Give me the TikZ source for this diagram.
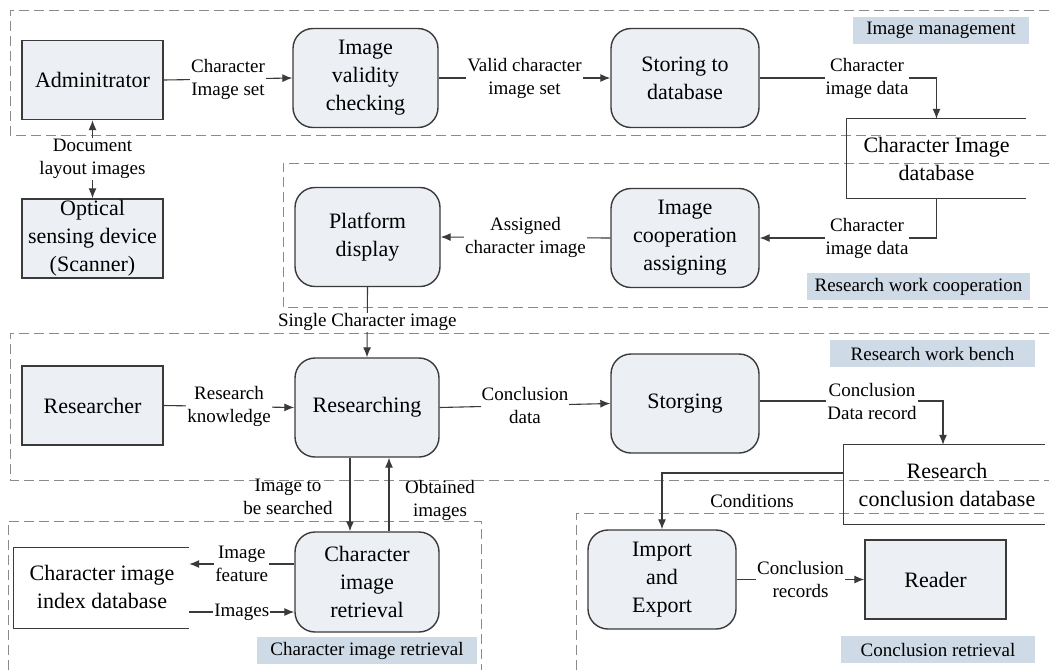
\documentclass[tikz,border=0pt]{standalone}
\usepackage{fontspec}
\setmainfont{Liberation Serif}
\usetikzlibrary{arrows.meta,calc}
\definecolor{nodefill}{HTML}{ECEFF4}
\definecolor{tagfill}{HTML}{CFDAE7}
\definecolor{edge}{HTML}{3A3A3A}
\definecolor{dashc}{HTML}{8A8A8A}
\tikzset{
  bigtext/.style={font=\fontsize{22}{28}\selectfont, align=center},
  sqbox/.style={bigtext, draw=edge, line width=1.4pt, fill=nodefill, minimum width=141pt, minimum height=79pt, inner sep=0pt},
  rbox/.style={bigtext, draw=edge, line width=1.4pt, fill=nodefill, rounded corners=20pt, minimum width=146pt, minimum height=99pt, inner sep=0pt},
  dbbox/.style={bigtext, inner sep=0pt},
  dbline/.style={draw=edge, line width=1.2pt},
  lbl/.style={font=\fontsize{19}{23}\selectfont, align=center, fill=white, inner sep=1pt},
  plainlbl/.style={font=\fontsize{19}{23}\selectfont, align=center, inner sep=1pt},
  tag/.style={font=\fontsize{19}{23}\selectfont, fill=tagfill, inner sep=0pt, minimum height=27pt},
  region/.style={draw=dashc, line width=0.9pt, dash pattern=on 10pt off 5pt},
  arr/.style={draw=edge, line width=1.1pt, -{Latex[length=10pt,width=8pt]}},
  ln/.style={draw=edge, line width=1.1pt},
}
\begin{document}
\begin{tikzpicture}[x=1pt,y=-1pt]
\useasboundingbox (0,0) rectangle (1049,670);
% regions
\draw[region] (1049,10) -- (10,10) -- (10,135) -- (1049,135);
\draw[region] (1049,163) -- (283,163) -- (283,307) -- (1049,307);
\draw[region] (1049,333) -- (10,333) -- (10,480) -- (1049,480);
\draw[region] (8,670) -- (8,521) -- (481,521) -- (481,670);
\draw[region] (576,670) -- (576,513) -- (1049,513);
% region tags
\node[tag, minimum width=176pt] (tagim) at (941,30.5) {Image management};
\node[tag, minimum width=223pt] (tagrc) at (918.5,286.5) {Research work cooperation};
\node[tag, minimum width=205pt] (tagrb) at (932.5,353.5) {Research work bench};
\node[tag, minimum width=220pt] (tagcr) at (367,650.5) {Character image retrieval};
\node[tag, minimum width=194pt] (tagcl) at (938,649.5) {Conclusion retrieval};
% nodes
\node[sqbox] (adm) at (92.5,80) {Adminitrator};
\node[sqbox] (opt) at (92.5,238.5) {Optical\\sensing device\\(Scanner)};
\node[rbox, minimum width=145pt] (ivc) at (365.5,78) {Image\\validity\\checking};
\node[rbox, minimum width=148pt] (std) at (685,78) {Storing to\\database};
\node[dbbox, minimum width=179pt, minimum height=79pt] (cidb) at (936.5,158.5) {Character Image\\database};
\node[rbox, minimum width=148pt] (ica) at (685,238) {Image\\cooperation\\assigning};
\node[rbox, minimum width=145pt] (pd) at (367.5,237) {Platform\\display};
\node[sqbox] (rsr) at (92.5,405.5) {Researcher};
\node[rbox, minimum width=144pt] (rsg) at (367,407.5) {Researching};
\node[rbox, minimum width=148pt] (stg) at (685,403.5) {Storging};
\node[dbbox, minimum width=201pt, minimum height=79pt] (rcdb) at (944.5,484.5) {};
\node[bigtext] (rcdbt) at (947,484.5) {Research\\conclusion database};
\node[rbox, minimum width=148pt] (iae) at (662,579.5) {Import\\and\\Export};
\node[sqbox] (rdr) at (935.5,579.5) {Reader};
\node[rbox, minimum width=144pt, minimum height=100pt] (cir) at (367,582) {Character\\image\\retrieval};
\node[dbbox, minimum width=175pt, minimum height=80pt] (idb) at (101.5,588) {};
\node[bigtext] (idbt) at (102,587) {Character image\\index database};
% database outlines
\draw[dbline] (cidb.north east) -- (cidb.north west) -- (cidb.south west) -- (cidb.south east);
\draw[dbline] (rcdb.north east) -- (rcdb.north west) -- (rcdb.south west) -- (rcdb.south east);
\draw[dbline] (idb.north east) -- (idb.north west) -- (idb.south west) -- (idb.south east);
% connectors
\draw[arr,{Latex[length=10pt,width=8pt]}-{Latex[length=10pt,width=8pt]}] (opt.north) -- node[lbl]{Document\\layout images} (adm.south);
\draw[arr] (adm.east) -- node[lbl]{Character\\Image set} (ivc.west);
\draw[arr] (ivc.east) -- node[lbl]{Valid character\\image set} (std.west);
\coordinate (c1) at (std.east -| cidb.north);
\draw[arr] (std.east) -- (c1) -- (cidb.north);
\node[lbl] (l1) at (867,78) {Character\\image data};
\coordinate (c2) at (cidb.south |- ica.east);
\draw[arr] (cidb.south) -- (c2) -- (ica.east);
\node[lbl] (l2) at (867,238) {Character\\image data};
\draw[arr] (ica.west) -- node[lbl]{Assigned\\character image} (pd.east);
\draw[arr] (pd.south) -- node[lbl, pos=0.5]{Single Character image} (rsg.north);
\draw[arr] (rsr.east) -- node[lbl]{Research\\knowledge} (rsg.west);
\draw[arr] (rsg.east) -- node[lbl]{Conclusion\\data} (stg.west);
\coordinate (c3) at (943,401);
\draw[arr] (stg.east |- c3) -- (c3) -- (c3 |- rcdb.north);
\node[lbl] (l3) at (872,401) {Conclusion\\Data record};
\coordinate (c4) at (844,473);
\coordinate (c5) at (iae.north |- c4);
\draw[arr] (c4) -- (c5) -- (iae.north);
\node[plainlbl] (l4) at (752,501) {Conditions};
\draw[arr] (iae.east) -- node[lbl]{Conclusion\\records} (rdr.west);
\draw[arr] ([xshift=-17pt]rsg.south) -- ([xshift=-17pt]cir.north);
\draw[arr] ([xshift=22pt]cir.north) -- ([xshift=22pt]rsg.south);
\node[plainlbl] (l5) at (288,497) {Image to\\be searched};
\node[plainlbl] (l6) at (440,500) {Obtained\\images};
\coordinate (r1) at ([yshift=18pt]cir.west);
\coordinate (r2) at (r1 -| idb.east);
\draw[arr] (r1) -- node[lbl]{Image\\feature} (r2);
\coordinate (r3) at ([yshift=-30pt]cir.west);
\coordinate (r4) at (r3 -| idb.east);
\draw[arr] (r4) -- node[lbl]{Images} (r3);
\end{tikzpicture}
\end{document}
